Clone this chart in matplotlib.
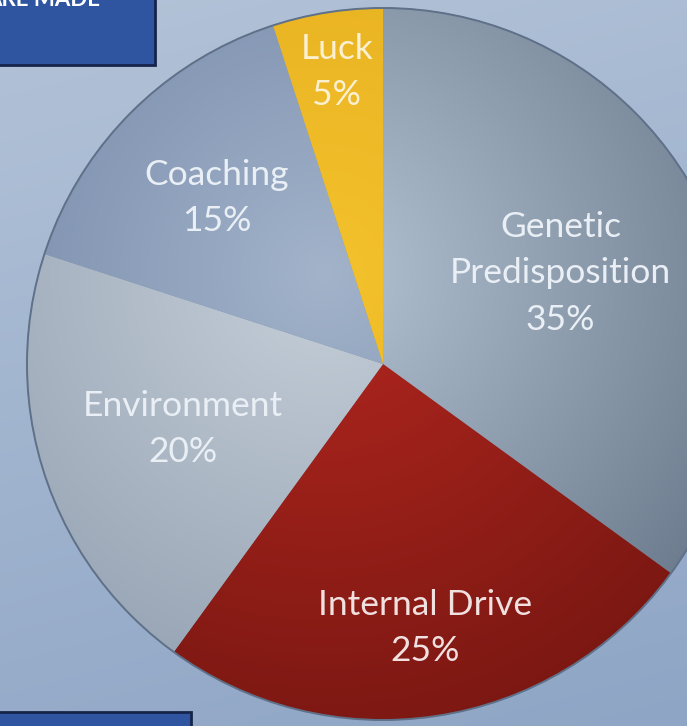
import numpy as np
import matplotlib
matplotlib.use("Agg")
import matplotlib.pyplot as plt
from matplotlib.colors import to_rgb
from matplotlib.patches import Rectangle, Circle

# chart data
labels = ["Genetic\nPredisposition", "Internal Drive", "Environment", "Coaching", "Luck"]
shares = [35, 25, 20, 15, 5]

# light / dark shade per slice
light_cols = ["#b4c3d3", "#b3271f", "#c6cfd9", "#a2b3ca", "#f3c22c"]
dark_cols = ["#657587", "#761611", "#8e9cad", "#6a7ea0", "#e3a91c"]
label_r = [0.56, 0.75, 0.59, 0.66, 0.83]

W, H = 687, 726
cx, cy, R = 383, 362, 356

fig = plt.figure(figsize=(W / 100, H / 100), dpi=100)
ax = fig.add_axes([0, 0, 1, 1])

# background gradient, lighter at the top
yy, xx = np.mgrid[0:H, 0:W]
t = (yy / H) * 0.8 + (1 - xx / W) * 0.2
dark_bg = np.array(to_rgb("#8ea5c5"))
light_bg = np.array(to_rgb("#b3c3d8"))
bg = dark_bg[None, None, :] * (1 - t[..., None]) + light_bg[None, None, :] * t[..., None]
ax.imshow(bg, extent=(0, W, 0, H), origin="lower", zorder=0)

wedges, _ = ax.pie(shares, startangle=90, counterclock=False, radius=R,
                   center=(cx, cy), colors=light_cols,
                   wedgeprops=dict(linewidth=0.8, edgecolor="#8092a6"))

# shading inside each slice: lighter near upper-left of center, darker at the rim
gy, gx = np.mgrid[cy - R:cy + R, cx - R:cx + R]
d = np.hypot(gx - (cx - 60), gy - (cy + 90)) / (R * 1.45)
d = np.clip(d, 0, 1)
for w, lc, dc in zip(wedges, light_cols, dark_cols):
    a = np.array(to_rgb(lc))
    b = np.array(to_rgb(dc))
    img = a[None, None, :] * (1 - d[..., None]) + b[None, None, :] * d[..., None]
    im = ax.imshow(img, extent=(cx - R, cx + R, cy - R, cy + R), origin="lower", zorder=2)
    im.set_clip_path(w)
    w.set_zorder(1)

ax.add_patch(Circle((cx, cy), R, fill=False, edgecolor="#5f7189", linewidth=1.4, zorder=3))

for w, lab, s, rf in zip(wedges, labels, shares, label_r):
    mid = np.deg2rad((w.theta1 + w.theta2) / 2)
    x = cx + rf * R * np.cos(mid)
    y = cy + rf * R * np.sin(mid)
    col = "#f0e0e0" if lab == "Internal Drive" else "#e9eff5"
    if lab == "Luck":
        col = "#fbf0d2"
    ax.text(x, y, f"{lab}\n{s}%", ha="center", va="center", fontsize=25.5,
            family="Lato", color=col, linespacing=1.55, zorder=5)

# title box at top-left (cut off) and box at bottom-left
ax.add_patch(Rectangle((-5, H - 65), 160, 75, facecolor="#2f55a0",
                       edgecolor="#16244a", linewidth=2, zorder=6))
ax.text(100, H - 6, "ARE MADE", ha="right", va="baseline", fontsize=16,
        fontweight="bold", color="white", family="Lato", zorder=7)
ax.add_patch(Rectangle((-5, -10), 196, 24, facecolor="#2f55a0",
                       edgecolor="#16244a", linewidth=2, zorder=6))

ax.set_xlim(0, W)
ax.set_ylim(0, H)
ax.set_aspect("auto")
ax.axis("off")

plt.savefig("out.png", dpi=100)
